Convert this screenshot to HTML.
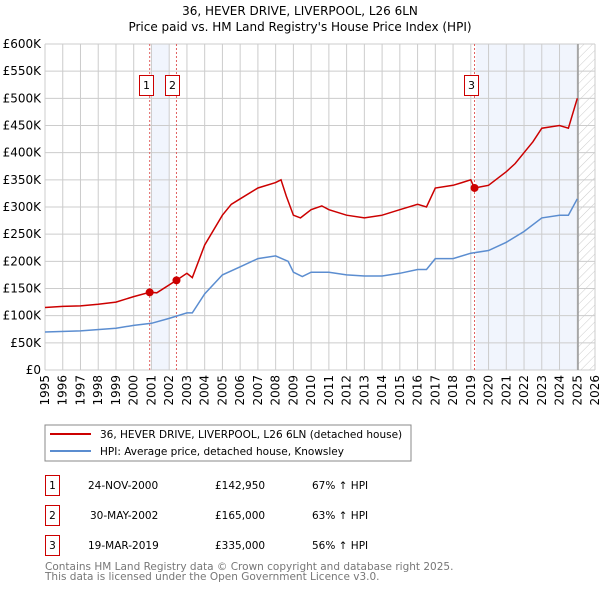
<!DOCTYPE html>
<html><head><meta charset="utf-8"><style>
body{margin:0;background:#fff;font-family:"DejaVu Sans","Liberation Sans",sans-serif;}
svg text{font-family:"DejaVu Sans","Liberation Sans",sans-serif;}
</style></head><body>
<svg id="chart" width="600" height="590" xmlns="http://www.w3.org/2000/svg">
<defs><pattern id="hatch" width="6" height="6" patternUnits="userSpaceOnUse" patternTransform="rotate(45)"><line x1="0" y1="0" x2="0" y2="6" stroke="#ccc" stroke-width="1"/></pattern></defs>
<text x="300" y="15" text-anchor="middle" font-size="12">36, HEVER DRIVE, LIVERPOOL, L26 6LN</text>
<text x="300" y="31" text-anchor="middle" font-size="12">Price paid vs. HM Land Registry's House Price Index (HPI)</text>
<g id="plot"></g>
<rect x="45" y="425" width="366" height="36" fill="#fff" stroke="#888"/>
<line x1="50" y1="434" x2="91" y2="434" stroke="#cc0000" stroke-width="2"/>
<text x="100" y="438" font-size="10.5">36, HEVER DRIVE, LIVERPOOL, L26 6LN (detached house)</text>
<line x1="50" y1="451" x2="91" y2="451" stroke="#5b8dd0" stroke-width="2"/>
<text x="100" y="455" font-size="10.5">HPI: Average price, detached house, Knowsley</text>
<g font-size="10.5">
<rect x="45.5" y="475.5" width="14" height="20" fill="none" stroke="#cc0000"/><text x="52.5" y="489" text-anchor="middle">1</text>
<text x="88" y="489">24-NOV-2000</text><text x="215" y="489">£142,950</text><text x="312" y="489">67% ↑ HPI</text>
<rect x="45.5" y="505.5" width="14" height="20" fill="none" stroke="#cc0000"/><text x="52.5" y="519" text-anchor="middle">2</text>
<text x="90" y="519">30-MAY-2002</text><text x="215" y="519">£165,000</text><text x="312" y="519">63% ↑ HPI</text>
<rect x="45.5" y="535.5" width="14" height="20" fill="none" stroke="#cc0000"/><text x="52.5" y="549" text-anchor="middle">3</text>
<text x="88" y="549">19-MAR-2019</text><text x="215" y="549">£335,000</text><text x="312" y="549">56% ↑ HPI</text>
</g>
<text x="45" y="570" font-size="10.5" fill="#777">Contains HM Land Registry data © Crown copyright and database right 2025.</text>
<text x="45" y="580" font-size="10.5" fill="#777">This data is licensed under the Open Government Licence v3.0.</text>
</svg>
<script>
const yTicks=[0,50,100,150,200,250,300,350,400,450,500,550,600];
const yTickLabels=["£0","£50K","£100K","£150K","£200K","£250K","£300K","£350K","£400K","£450K","£500K","£550K","£600K"];
const xYears=[1995,1996,1997,1998,1999,2000,2001,2002,2003,2004,2005,2006,2007,2008,2009,2010,2011,2012,2013,2014,2015,2016,2017,2018,2019,2020,2021,2022,2023,2024,2025,2026];
const redT=[1995,1996,1997,1998,1999,2000,2000.9,2001.3,2002.4,2003,2003.3,2004,2005,2005.5,2006,2007,2008,2008.3,2008.6,2009,2009.4,2010,2010.6,2011,2012,2013,2014,2015,2016,2016.5,2017,2018,2018.5,2019,2019.2,2020,2021,2021.5,2022,2022.5,2023,2024,2024.5,2025];
const redV=[115,117,118,121,125,135,143,142,165,178,170,230,285,305,315,335,345,350,320,285,280,295,302,295,285,280,285,295,305,300,335,340,345,350,335,340,365,380,400,420,445,450,445,500];
const blueT=[1995,1997,1999,2000,2001,2002,2003,2003.3,2004,2005,2006,2007,2008,2008.7,2009,2009.5,2010,2011,2012,2013,2014,2015,2016,2016.5,2017,2018,2019,2020,2021,2022,2023,2024,2024.5,2025];
const blueV=[70,72,77,82,86,95,105,105,140,175,190,205,210,200,180,172,180,180,175,173,173,178,185,185,205,205,215,220,235,255,280,285,285,315];
const saleT=[2000.9,2002.41,2019.21];
const saleV=[142.95,165,335];
const saleLabels=["1","2","3"];
const X0=45,X1=595,Y0=370,Y1=44;
function xs(t){return X0+(t-1995)/31*(X1-X0);}
function ys(v){return Y0-v/600*(Y0-Y1);}
const NS="http://www.w3.org/2000/svg";
const g=document.getElementById('plot');
function mk(tag,a,p){const e=document.createElementNS(NS,tag);for(const k in a)e.setAttribute(k,a[k]);(p||g).appendChild(e);return e;}
let e;
e=mk('rect',{x:151.5,y:Y1,width:18,height:Y0-Y1,fill:'#eef3fc',opacity:0.8});


e=mk('rect',{x:xs(saleT[2])+1.5,y:Y1,width:578-xs(saleT[2])-1.5,height:Y0-Y1,fill:'#eef3fc',opacity:0.8});


e=mk('rect',{x:578,y:Y1,width:X1-578,height:Y0-Y1,fill:'url(#hatch)'});


yTicks.forEach((v,i)=>{
 e=mk('line',{x1:X0,x2:X1,y1:ys(v),y2:ys(v),stroke:'#ccc'});
 
 
 e=mk('text',{x:X0-4,y:ys(v)+4,'text-anchor':'end','font-size':12});
 e.textContent=yTickLabels[i];
 
 
});
xYears.forEach(yr=>{
 e=mk('line',{x1:xs(yr),x2:xs(yr),y1:Y1,y2:Y0,stroke:'#ccc'});
 
 
 e=mk('text',{x:0,y:0,'text-anchor':'end','font-size':12,transform:`translate(${xs(yr)+4},${Y0+5}) rotate(-90)`});
 e.textContent=yr;
 
 
});
e=mk('line',{x1:578,x2:578,y1:Y1,y2:Y0,stroke:'#999','stroke-width':1.5});


saleT.forEach((t,i)=>{
 e=mk('line',{x1:xs(t),x2:xs(t),y1:Y1,y2:Y0,stroke:'#e06060','stroke-dasharray':'2,2'});
 
 
 e=mk('rect',{x:Math.round(xs(t))-10.5,y:75.5,width:14,height:20,fill:'#fff',stroke:'#cc0000'});
 
 
 e=mk('text',{x:Math.round(xs(t))-3.5,y:89,'text-anchor':'middle','font-size':11});
 e.textContent=saleLabels[i];
 
 
});
function line(T,V,c,n){
 e=mk('polyline',{points:T.map((t,i)=>xs(t).toFixed(1)+','+ys(V[i]).toFixed(1)).join(' '),fill:'none',stroke:c,'stroke-width':1.5});
 
 
}
line(blueT,blueV,'#5b8dd0','hpi-line');
line(redT,redV,'#cc0000','property-line');
saleT.forEach((t,i)=>{
 e=mk('circle',{cx:xs(t),cy:ys(saleV[i]),r:4,fill:'#cc0000'});
 
 
});
</script>
</body></html>
